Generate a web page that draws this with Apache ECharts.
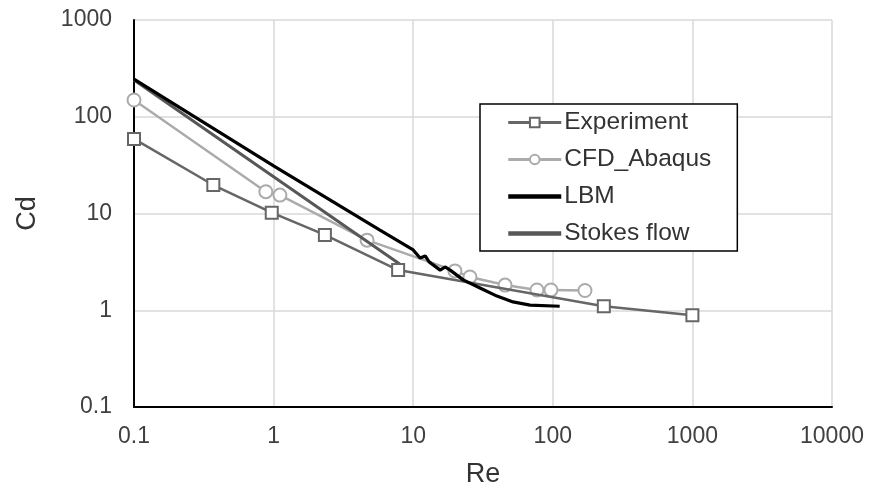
<!DOCTYPE html>
<html>
<head>
<meta charset="utf-8">
<script src="https://cdn.jsdelivr.net/npm/echarts@6/dist/echarts.min.js"></script>
<style>
  html, body { margin: 0; padding: 0; background: #fff; }
  #chart { width: 872px; height: 497px; }
</style>
</head>
<body>
<div id="chart"></div>
<script>
// Drag coefficient vs Reynolds number
const expRe = [0.1, 0.37, 0.97, 2.33, 7.8, 232, 1000];
const expCd = [59, 19.7, 10.2, 6.0, 2.6, 1.1, 0.89];

const cfdRe = [0.1, 0.88, 1.11, 4.67, 19.9, 25.5, 45.5, 77, 97, 170];
const cfdCd = [149, 16.8, 15.5, 5.3, 2.55, 2.21, 1.82, 1.62, 1.62, 1.6];

const lbmRe = [0.1, 1, 5.78, 10, 11.2, 12.2, 13, 15.6, 16.9, 18.4, 22.8, 30.1, 39.8, 51.9, 68.7, 112];
const lbmCd = [245, 31, 6.75, 4.2, 3.47, 3.64, 3.16, 2.6, 2.8, 2.6, 2.06, 1.70, 1.40, 1.22, 1.13, 1.1];

const stokesRe = [0.1, 1, 8];
const stokesCd = [240, 24, 3];

const xTicks = [0.1, 1, 10, 100, 1000, 10000];
const yTicks = [0.1, 1, 10, 100, 1000];

const FONT = 'Liberation Sans, Arial, sans-serif';
const pairs = (xs, ys) => xs.map((x, i) => [x, ys[i]]);
const fmt = v => {
  const hit = xTicks.concat(yTicks).find(t => Math.abs(Math.log10(t) - Math.log10(v)) < 1e-6);
  return hit !== undefined ? String(hit) : '';
};

const chart = echarts.init(document.getElementById('chart'), null, { renderer: 'canvas' });
chart.setOption({
  animation: false,
  backgroundColor: '#ffffff',
  grid: { left: 134, top: 20, right: 40, bottom: 90, containLabel: false },
  xAxis: {
    type: 'log', logBase: 10, min: 0.1, max: 10000,
    name: 'Re', nameLocation: 'middle', nameGap: 54,
    nameTextStyle: { fontFamily: FONT, fontSize: 27, color: '#333' },
    axisLine: { show: true, onZero: false, lineStyle: { color: '#000', width: 2 } },
    axisTick: { show: false },
    axisLabel: { fontFamily: FONT, fontSize: 23, color: '#404040', margin: 18, formatter: fmt, showMinLabel: true, showMaxLabel: true },
    splitLine: { show: true, lineStyle: { color: '#d9d9d9', width: 1.5 } },
    minorTick: { show: false }
  },
  yAxis: {
    type: 'log', logBase: 10, min: 0.1, max: 1000,
    name: 'Cd', nameLocation: 'middle', nameGap: 93,
    nameTextStyle: { fontFamily: FONT, fontSize: 27, color: '#333' },
    axisLine: { show: true, onZero: false, lineStyle: { color: '#000', width: 2 } },
    axisTick: { show: false },
    axisLabel: { fontFamily: FONT, fontSize: 23, color: '#404040', margin: 22, formatter: fmt, showMinLabel: true, showMaxLabel: true },
    splitLine: { show: true, lineStyle: { color: '#d9d9d9', width: 1.5 } }
  },
  legend: {
    orient: 'vertical', left: 480, top: 104,
    backgroundColor: '#fff', borderColor: '#000', borderWidth: 1.5,
    padding: [6, 26, 5, 26],
    itemWidth: 53, itemHeight: 12, itemGap: 12,
    textStyle: { fontFamily: FONT, fontSize: 24.5, color: '#333', padding: [0, 0, 0, -2] },
    data: [
      { name: 'Experiment', lineStyle: { width: 3 } },
      { name: 'CFD_Abaqus', lineStyle: { width: 3 } },
      { name: 'LBM', itemStyle: { opacity: 0 }, lineStyle: { width: 4.5, opacity: 1 } },
      { name: 'Stokes flow', itemStyle: { opacity: 0 }, lineStyle: { width: 4.5, opacity: 1 } }
    ]
  },
  series: [
    {
      name: 'Stokes flow', type: 'line', data: pairs(stokesRe, stokesCd),
      symbol: 'none', z: 3,
      lineStyle: { color: '#575757', width: 3 }, itemStyle: { color: '#575757' }
    },
    {
      name: 'CFD_Abaqus', type: 'line', data: pairs(cfdRe, cfdCd),
      symbol: 'circle', symbolSize: 13, z: 2,
      lineStyle: { color: '#ababab', width: 2.5 },
      itemStyle: { color: '#fff', borderColor: '#ababab', borderWidth: 2 }
    },
    {
      name: 'Experiment', type: 'line', data: pairs(expRe, expCd),
      symbol: 'rect', symbolSize: 12, z: 4,
      lineStyle: { color: '#666666', width: 2.5 },
      itemStyle: { color: '#fff', borderColor: '#666666', borderWidth: 2 }
    },
    {
      name: 'LBM', type: 'line', data: pairs(lbmRe, lbmCd),
      symbol: 'none', z: 5,
      lineStyle: { color: '#000', width: 3.2 }, itemStyle: { color: '#000' }
    }
  ]
});
</script>
</body>
</html>
